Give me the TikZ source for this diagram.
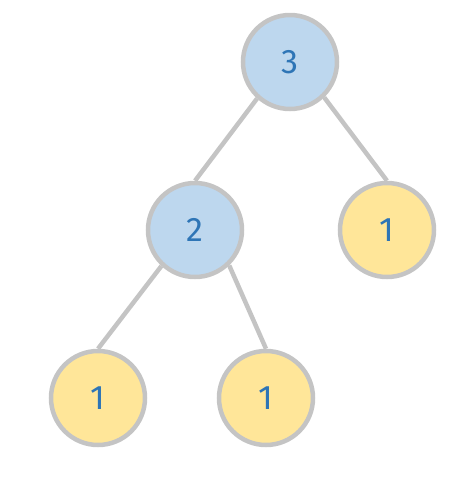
\documentclass[tikz,border=0pt]{standalone}
\usepackage{fontspec}
\setmainfont{Fira Sans}
\definecolor{bfill}{HTML}{BDD7EE}
\definecolor{yfill}{HTML}{FFE699}
\definecolor{edgegray}{HTML}{C4C4C4}
\definecolor{txt}{HTML}{2E75B6}
\begin{document}
\begin{tikzpicture}[x=1pt,y=-1pt,
  tn/.style={circle,draw=edgegray,line width=4.5pt,minimum size=94pt,inner sep=0pt,text=txt,font=\fontsize{34}{40}\selectfont},
  bn/.style={tn,fill=bfill},
  yn/.style={tn,fill=yfill},
  edge/.style={draw=edgegray,line width=4.5pt}]
\useasboundingbox (0,0) rectangle (463,483);
\node[bn] (r) at (290,62) {3};
\node[bn] (a) at (195,230) {2};
\node[yn] (b) at (387,230) {1};
\node[yn] (c) at (98,398) {1};
\node[yn] (d) at (266,398) {1};
\draw[edge] (r.-132) -- (a.north);
\draw[edge] (r.-46) -- (b.north);
\draw[edge] (a.-133) -- (c.north);
\draw[edge] (a.-46) -- (d.north);
\end{tikzpicture}
\end{document}
